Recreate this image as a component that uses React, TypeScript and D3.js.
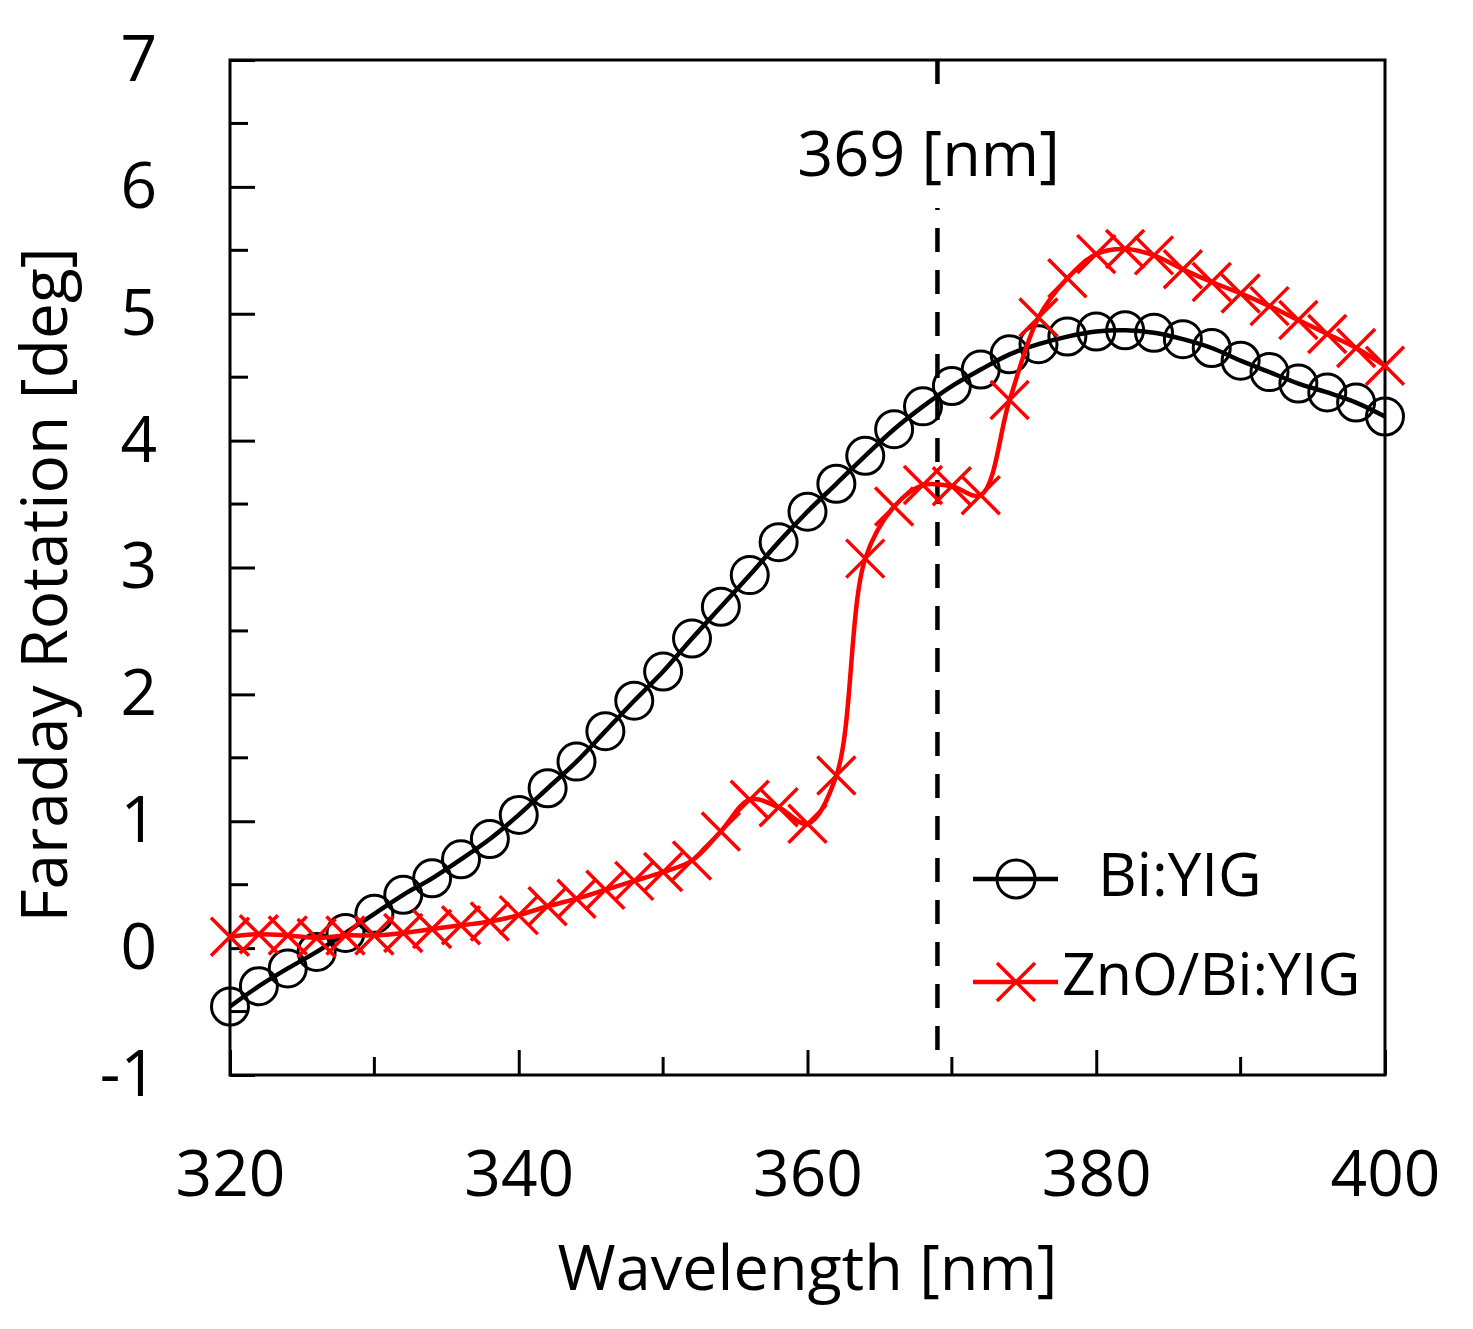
import { useRef, useEffect } from "react";
import * as d3 from "d3";

const wavelengths = [
  320, 322, 324, 326, 328, 330, 332, 334, 336, 338, 340, 342, 344, 346, 348, 350, 352, 354, 356, 358, 360,
  362, 364, 366, 368, 370, 372, 374, 376, 378, 380, 382, 384, 386, 388, 390, 392, 394, 396, 398, 400,
];

const biYig = [
  -0.46, -0.3, -0.16, -0.03, 0.12, 0.27, 0.42, 0.55, 0.7, 0.86, 1.05, 1.26, 1.47, 1.71, 1.95, 2.18, 2.44, 2.69,
  2.94, 3.2, 3.44, 3.66, 3.88, 4.09, 4.27, 4.43, 4.56, 4.68, 4.76, 4.82, 4.86, 4.87, 4.85, 4.8, 4.73, 4.63, 4.54,
  4.45, 4.38, 4.3, 4.19,
];

const znoBiYig = [
  0.09, 0.11, 0.1, 0.08, 0.1, 0.1, 0.12, 0.15, 0.18, 0.21, 0.26, 0.33, 0.39, 0.46, 0.53, 0.6, 0.69, 0.92, 1.17,
  1.11, 0.98, 1.36, 3.07, 3.48, 3.65, 3.64, 3.57, 4.32, 4.97, 5.28, 5.47, 5.51, 5.46, 5.35, 5.25, 5.16, 5.06,
  4.95, 4.84, 4.73, 4.59,
];

const xTicks = [320, 340, 360, 380, 400];
const yTicks = [-1, 0, 1, 2, 3, 4, 5, 6, 7];
const markerLine = 369;
const seriesNames = ["Bi:YIG", "ZnO/Bi:YIG"];

const W = 1473;
const H = 1329;
const FONT = "'Open Sans', 'Noto Sans', sans-serif";

export default function App() {
  const svgRef = useRef<SVGSVGElement | null>(null);

  useEffect(() => {
    if (!svgRef.current) return;
    const svg = d3.select(svgRef.current);
    svg.selectAll("*").remove();

    const left = 230, right = 1385, top = 60, bottom = 1075;
    const x = d3.scaleLinear().domain([320, 400]).range([left, right]);
    const y = d3.scaleLinear().domain([-1, 7]).range([bottom, top]);

    // minor ticks
    const g = svg.append("g");
    d3.range(-0.5, 7, 1).forEach((v) => {
      g.append("line")
        .attr("x1", left).attr("x2", left + 18)
        .attr("y1", y(v)).attr("y2", y(v))
        .attr("stroke", "#000").attr("stroke-width", 3);
    });
    d3.range(330, 400, 20).forEach((v) => {
      g.append("line")
        .attr("x1", x(v)).attr("x2", x(v))
        .attr("y1", bottom).attr("y2", bottom - 18)
        .attr("stroke", "#000").attr("stroke-width", 3);
    });

    // axes
    const yAxis = svg.append("g")
      .attr("transform", `translate(${left},0)`)
      .call(d3.axisLeft(y).tickValues(yTicks).tickSize(-25).tickPadding(73).tickFormat((d) => String(d)));
    const xAxis = svg.append("g")
      .attr("transform", `translate(0,${bottom})`)
      .call(d3.axisBottom(x).tickValues(xTicks).tickSize(-25).tickPadding(76).tickFormat((d) => String(d)));
    [yAxis, xAxis].forEach((a) => {
      a.select(".domain").remove();
      a.selectAll("line").attr("stroke", "#000").attr("stroke-width", 3);
      a.selectAll("text").attr("font-family", FONT).attr("font-size", 64).attr("fill", "#000");
    });

    // frame
    svg.append("rect")
      .attr("x", left).attr("y", top)
      .attr("width", right - left).attr("height", bottom - top)
      .attr("fill", "none").attr("stroke", "#000").attr("stroke-width", 3);

    // dashed marker line
    svg.append("line")
      .attr("x1", x(markerLine)).attr("x2", x(markerLine))
      .attr("y1", top).attr("y2", bottom - 12)
      .attr("stroke", "#000").attr("stroke-width", 4.5)
      .attr("stroke-dasharray", "24 18");
    svg.append("rect")
      .attr("x", 795).attr("y", 86).attr("width", 270).attr("height", 122)
      .attr("fill", "#fff");
    svg.append("text")
      .attr("x", x(markerLine) - 9).attr("y", 176)
      .attr("text-anchor", "middle")
      .attr("font-family", FONT).attr("font-size", 63)
      .text(`${markerLine} [nm]`);

    const line = d3.line<number>()
      .x((_, i) => x(wavelengths[i]))
      .y((d) => y(d))
      .curve(d3.curveCatmullRom.alpha(0.5));

    // Bi:YIG
    svg.append("path")
      .attr("d", line(biYig) as string)
      .attr("fill", "none").attr("stroke", "#000").attr("stroke-width", 4.5);
    svg.append("g")
      .selectAll("circle")
      .data(biYig)
      .enter()
      .append("circle")
      .attr("cx", (_, i) => x(wavelengths[i]))
      .attr("cy", (d) => y(d))
      .attr("r", 18.5)
      .attr("fill", "none").attr("stroke", "#000").attr("stroke-width", 3);

    // ZnO/Bi:YIG
    const cross = (s: number) => `M${-s},${-s}L${s},${s}M${-s},${s}L${s},${-s}`;
    svg.append("path")
      .attr("d", line(znoBiYig) as string)
      .attr("fill", "none").attr("stroke", "#ff0000").attr("stroke-width", 4.5);
    svg.append("g")
      .selectAll("path")
      .data(znoBiYig)
      .enter()
      .append("path")
      .attr("transform", (d, i) => `translate(${x(wavelengths[i])},${y(d)})`)
      .attr("d", cross(19))
      .attr("fill", "none").attr("stroke", "#ff0000").attr("stroke-width", 3.5);

    // legend
    const lg = svg.append("g");
    lg.append("line").attr("x1", 973).attr("x2", 1058).attr("y1", 879).attr("y2", 879)
      .attr("stroke", "#000").attr("stroke-width", 4.5);
    lg.append("circle").attr("cx", 1016).attr("cy", 879).attr("r", 19)
      .attr("fill", "none").attr("stroke", "#000").attr("stroke-width", 3);
    lg.append("text").attr("x", 1098).attr("y", 896)
      .attr("font-family", FONT).attr("font-size", 60).text(seriesNames[0]);
    lg.append("line").attr("x1", 973).attr("x2", 1058).attr("y1", 982).attr("y2", 982)
      .attr("stroke", "#ff0000").attr("stroke-width", 4.5);
    lg.append("path").attr("transform", "translate(1016,982)").attr("d", cross(19))
      .attr("fill", "none").attr("stroke", "#ff0000").attr("stroke-width", 3.5);
    lg.append("text").attr("x", 1062).attr("y", 995)
      .attr("font-family", FONT).attr("font-size", 59).text(seriesNames[1]);

    // axis titles
    svg.append("text")
      .attr("x", (left + right) / 2).attr("y", 1290)
      .attr("text-anchor", "middle")
      .attr("font-family", FONT).attr("font-size", 63)
      .text("Wavelength [nm]");
    svg.append("text")
      .attr("transform", "translate(67,585) rotate(-90)")
      .attr("text-anchor", "middle")
      .attr("font-family", FONT).attr("font-size", 64)
      .text("Faraday Rotation [deg]");
  }, []);

  return (
    <svg
      ref={svgRef}
      width={W}
      height={H}
      style={{ position: "absolute", left: 0, top: 0, background: "#fff" }}
    />
  );
}
